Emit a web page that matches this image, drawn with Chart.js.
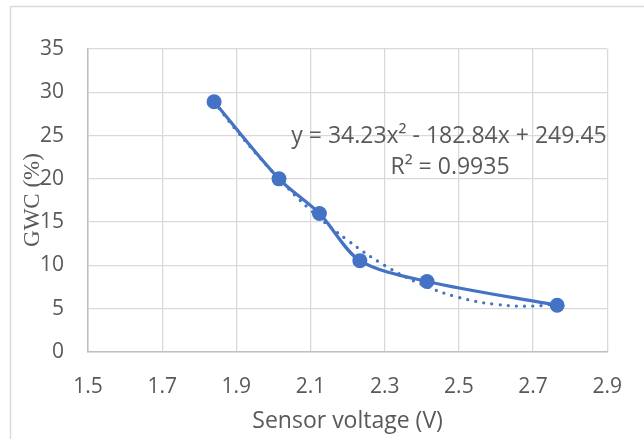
<!DOCTYPE html>
<html>
<head>
<meta charset="utf-8">
<script src="https://cdn.jsdelivr.net/npm/chart.js@4"></script>
<style>
  html, body { margin: 0; padding: 0; background: #ffffff; }
  #wrap { position: relative; width: 644px; height: 439px; }
  canvas { display: block; }
</style>
</head>
<body>
<div id="wrap"><canvas id="c" width="644" height="439"></canvas></div>
<script>
// ---- data ----
const sensorVoltage = [1.84, 2.015, 2.124, 2.233, 2.414, 2.765];
const gwcPercent    = [28.9, 20.0, 16.0, 10.55, 8.15, 5.4];

// polynomial trend line
const trendVoltage = [1.84, 1.9, 2.0, 2.1, 2.2, 2.3, 2.4, 2.5, 2.6, 2.7, 2.765];
const trendGwc     = [28.9, 25.6, 20.7, 16.4, 12.9, 10.0, 7.8, 6.3, 5.5, 5.3, 5.6];

const xTicks = [1.5, 1.7, 1.9, 2.1, 2.3, 2.5, 2.7, 2.9];
const yTicks = [0, 5, 10, 15, 20, 25, 30, 35];

const xTitle = 'Sensor voltage (V)';
const yTitle = 'GWC (%)';
const equationText = 'y = 34.23x² - 182.84x + 249.45';
const r2Text = 'R² = 0.9935';

// ---- chart ----
const blue = '#4472C4';
const gray = '#595959';
const gridColor = '#d9d9d9';

const decor = {
  id: 'decor',
  beforeDraw(chart) {
    const ctx = chart.ctx;
    ctx.save();
    ctx.strokeStyle = '#d9d9d9';
    ctx.lineWidth = 1.5;
    ctx.beginPath();
    ctx.moveTo(10.5, 460);
    ctx.lineTo(10.5, 6.5);
    ctx.lineTo(660, 6.5);
    ctx.stroke();
    ctx.restore();
  },
  afterDraw(chart) {
    const ctx = chart.ctx;
    const area = chart.chartArea;
    ctx.save();
    ctx.fillStyle = gray;
    ctx.textAlign = 'center';
    ctx.textBaseline = 'middle';
    // x title
    ctx.font = '23px "Open Sans"';
    ctx.fillText(xTitle, (area.left + area.right) / 2, 421);
    // equation
    ctx.font = '23px "Open Sans"';
    ctx.fillText(equationText, 449, 136);
    ctx.fillText(r2Text, 450, 167);
    // y title (serif, rotated)
    ctx.translate(32.5, 200);
    ctx.rotate(-Math.PI / 2);
    ctx.font = '23px "Liberation Serif"';
    ctx.fillText(yTitle, 0, 0);
    ctx.restore();
  }
};

new Chart(document.getElementById('c'), {
  type: 'line',
  data: {
    datasets: [
      {
        label: 'GWC',
        data: sensorVoltage.map((v, i) => ({ x: v, y: gwcPercent[i] })),
        borderColor: blue,
        backgroundColor: blue,
        borderWidth: 3.2,
        tension: 0.3,
        pointRadius: 7.5,
        pointHoverRadius: 7.5,
        pointBackgroundColor: blue,
        pointBorderColor: blue,
        pointBorderWidth: 0,
        order: 1
      },
      {
        label: 'Trend',
        data: trendVoltage.map((v, i) => ({ x: v, y: trendGwc[i] })),
        borderColor: blue,
        borderWidth: 3.3,
        borderDash: [0, 8.2],
        borderCapStyle: 'round',
        tension: 0.4,
        pointRadius: 0,
        order: 2
      }
    ]
  },
  options: {
    responsive: false,
    animation: false,
    events: [],
    layout: { padding: { left: 0, right: 22, top: 49, bottom: 0 } },
    plugins: {
      legend: { display: false },
      tooltip: { enabled: false },
      title: { display: false }
    },
    scales: {
      x: {
        type: 'linear',
        min: 1.5,
        max: 2.9,
        afterBuildTicks(scale) { scale.ticks = xTicks.map(v => ({ value: v })); },
        afterFit(scale) { scale.height = 87; },
        ticks: {
          color: gray,
          font: { family: 'Open Sans', size: 21 },
          padding: 22,
          maxRotation: 0,
          autoSkip: false,
          callback: v => Number(v).toFixed(1)
        },
        grid: { color: gridColor, lineWidth: 1.3, drawTicks: false },
        border: { color: '#bfbfbf', width: 1.5 }
      },
      y: {
        type: 'linear',
        min: 0,
        max: 35,
        afterBuildTicks(scale) { scale.ticks = yTicks.map(v => ({ value: v })); },
        afterFit(scale) { scale.width = 88; },
        ticks: {
          color: gray,
          font: { family: 'Open Sans', size: 21 },
          padding: 24,
          autoSkip: false,
          callback: v => String(v)
        },
        grid: { color: gridColor, lineWidth: 1.3, drawTicks: false },
        border: { color: '#bfbfbf', width: 1.5 }
      }
    }
  },
  plugins: [decor]
});
</script>
</body>
</html>
